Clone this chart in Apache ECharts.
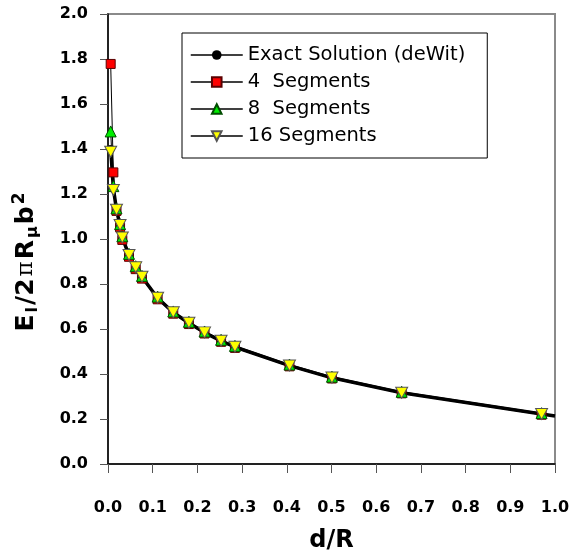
<!DOCTYPE html>
<html><head><meta charset="utf-8">
<script src="https://cdn.jsdelivr.net/npm/echarts@6/dist/echarts.min.js"></script>
<style>html,body{margin:0;padding:0;background:#fff}#c{width:574px;height:550px}</style>
</head><body><div id="c"></div>
<script>
// d/R positions of the computed points
const dR = [0.006, 0.012, 0.019, 0.027, 0.032, 0.047, 0.062, 0.076, 0.111, 0.146, 0.181, 0.216, 0.253, 0.284, 0.406, 0.501, 0.657, 0.970];
const seg4  = [1.778, 1.296, 1.125, 1.052, 0.996, 0.921, 0.866, 0.824, 0.732, 0.668, 0.622, 0.580, 0.543, 0.516, 0.434, 0.380, 0.314, 0.219];
const seg8  = [1.478, 1.235, 1.136, 1.066, 1.012, 0.934, 0.879, 0.836, 0.744, 0.678, 0.632, 0.589, 0.552, 0.525, 0.442, 0.388, 0.321, 0.226];
const seg16 = [1.388, 1.218, 1.130, 1.062, 1.007, 0.929, 0.874, 0.832, 0.739, 0.674, 0.628, 0.585, 0.548, 0.521, 0.438, 0.384, 0.317, 0.222];
// exact solution curve
const exactX = [0.006, 0.012, 0.019, 0.027, 0.032, 0.047, 0.062, 0.076, 0.111, 0.146, 0.181, 0.216, 0.253, 0.284, 0.406, 0.501, 0.657, 0.970, 1.0];
const exactY = [1.400, 1.225, 1.130, 1.060, 1.005, 0.928, 0.873, 0.831, 0.738, 0.673, 0.627, 0.584, 0.547, 0.520, 0.437, 0.383, 0.317, 0.222, 0.213];
const seriesNames = ['Exact Solution (deWit)', '4  Segments', '8  Segments', '16 Segments'];
const xTitle = 'd/R';

const chart = echarts.init(document.getElementById('c'), null, {renderer: 'canvas'});
const pairs = (x, y) => x.map((v, i) => [v, y[i]]);
const exactData = pairs(exactX, exactY).map((p, i) => i === exactX.length - 1 ? {value: p, symbol: 'none'} : p);
const lblFont = {fontFamily: 'DejaVu Sans', fontWeight: 'bold', fontSize: 16, color: '#000'};

chart.setOption({
  animation: false,
  grid: {left: 108, right: 19, top: 14, bottom: 86, show: true, borderColor: '#8a8a8a', borderWidth: 2,
         outerBoundsMode: 'none', containLabel: false},
  xAxis: {
    type: 'value', min: 0, max: 1, interval: 0.1,
    name: xTitle, nameLocation: 'middle', nameGap: 65,
    nameTextStyle: {fontFamily: 'DejaVu Sans', fontWeight: 'bold', fontSize: 24, color: '#000'},
    axisLine: {show: true, onZero: false, lineStyle: {color: '#000', width: 1.5}},
    axisTick: {show: true, length: 9, lineStyle: {color: '#555'}},
    axisLabel: Object.assign({margin: 36, formatter: v => v.toFixed(1)}, lblFont),
    splitLine: {show: false}
  },
  yAxis: {
    type: 'value', min: 0, max: 2, interval: 0.2,
    axisLine: {show: true, onZero: false, lineStyle: {color: '#000', width: 1.5}},
    axisTick: {show: true, length: 8, lineStyle: {color: '#555'}},
    axisLabel: Object.assign({margin: 20, formatter: v => v.toFixed(1)}, lblFont),
    splitLine: {show: false}
  },
  legend: {
    orient: 'vertical', left: 182, top: 33,
    padding: [12, 22, 12, 8],
    itemWidth: 52, itemHeight: 12, itemGap: 7, itemTextGap: 14,
    borderColor: '#000', borderWidth: 1, backgroundColor: '#fff',
    textStyle: {fontFamily: 'DejaVu Sans', fontSize: 19.5, color: '#000'},
    lineStyle: {width: 1.5, color: '#000'},
    data: seriesNames
  },
  graphic: [{
    type: 'text', x: 26, y: 262, rotation: Math.PI / 2,
    style: {
      text: '{b|E}{sub|l}{b|/2}{pi|π}{b|R}{sub|μ}{b|b}{sup|2}',
      align: 'center', verticalAlign: 'middle',
      rich: {
        b: {fontFamily: 'DejaVu Sans', fontWeight: 'bold', fontSize: 25, lineHeight: 30, verticalAlign: 'middle', fill: '#000'},
        sub: {fontFamily: 'DejaVu Sans', fontWeight: 'bold', fontSize: 16, lineHeight: 30, verticalAlign: 'bottom', fill: '#000', padding: [0, 2, 0, 2]},
        sup: {fontFamily: 'DejaVu Sans', fontWeight: 'bold', fontSize: 17, lineHeight: 30, verticalAlign: 'top', fill: '#000', padding: [0, 0, 0, 2]},
        pi: {fontFamily: 'DejaVu Serif', fontSize: 23, lineHeight: 30, verticalAlign: 'middle', fill: '#000', padding: [0, 2, 0, 2]}
      }
    }
  }],
  series: [
    {name: seriesNames[0], type: 'line', data: exactData, symbol: 'circle', symbolSize: 8,
     itemStyle: {color: '#000'}, lineStyle: {color: '#000', width: 3.5}},
    {name: seriesNames[1], type: 'line', data: pairs(dR, seg4), symbol: 'rect', symbolSize: 9,
     itemStyle: {color: '#ff0000', borderColor: '#5a0000', borderWidth: 1}, lineStyle: {color: '#000', width: 1}},
    {name: seriesNames[2], type: 'line', data: pairs(dR, seg8), symbol: 'triangle', symbolSize: 11,
     itemStyle: {color: '#00ee00', borderColor: '#004d00', borderWidth: 1}, lineStyle: {color: '#000', width: 1}},
    {name: seriesNames[3], type: 'line', data: pairs(dR, seg16), symbol: 'triangle', symbolRotate: 180, symbolSize: [12, 11],
     itemStyle: {color: '#ffff00', borderColor: '#555', borderWidth: 1}, lineStyle: {color: '#000', width: 1}}
  ]
});
</script></body></html>
